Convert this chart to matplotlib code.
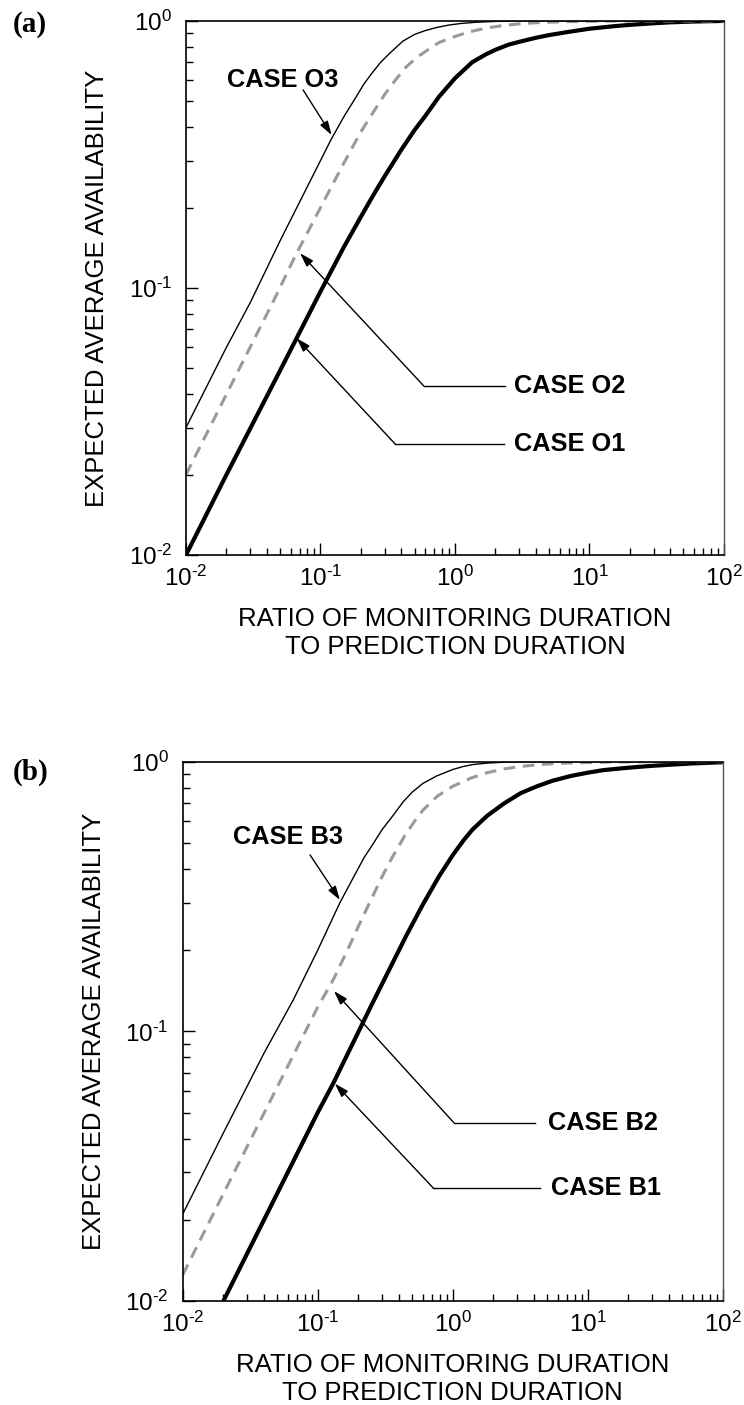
import matplotlib
matplotlib.use('Agg')
import matplotlib.pyplot as plt
from matplotlib.ticker import NullFormatter, FuncFormatter
import numpy as np

plt.rcParams['font.family'] = ['Liberation Sans', 'DejaVu Sans']
plt.rcParams['mathtext.fontset'] = 'custom'
plt.rcParams['mathtext.rm'] = 'Liberation Sans'
plt.rcParams['mathtext.it'] = 'Liberation Sans:italic'
plt.rcParams['mathtext.bf'] = 'Liberation Sans:bold'
plt.rcParams['axes.unicode_minus'] = False

# ---- panel (a) values ----
o1_x = [0.01, 0.02, 0.05, 0.1, 0.15, 0.2, 0.25, 0.3, 0.4, 0.5, 0.6, 0.76, 1.0, 1.34, 1.7, 2.0,
        2.5, 3.0, 4.0, 5.0, 7.0, 10, 15, 20, 30, 40, 60, 100]
o1_y = [0.01, 0.02, 0.049, 0.097, 0.143, 0.185, 0.225, 0.262, 0.33, 0.39, 0.44, 0.52, 0.61, 0.70,
        0.75, 0.78, 0.815, 0.835, 0.865, 0.885, 0.91, 0.935, 0.955, 0.967, 0.98, 0.988, 0.995, 1.0]

o2_x = [0.01, 0.02, 0.045, 0.065, 0.1, 0.15, 0.2, 0.25, 0.3, 0.36, 0.43, 0.52, 0.63, 0.76, 1.0,
        1.3, 1.7, 2.3, 3.0, 4.0, 6.0, 10, 20, 100]
o2_y = [0.02, 0.04, 0.09, 0.132, 0.20, 0.295, 0.385, 0.46, 0.53, 0.60, 0.67, 0.73, 0.78, 0.83, 0.875,
        0.912, 0.94, 0.962, 0.975, 0.985, 0.992, 0.997, 1.0, 1.0]

o3_x = [0.01, 0.02, 0.03, 0.05, 0.07, 0.1, 0.12, 0.15, 0.18, 0.21, 0.24, 0.28, 0.33, 0.41, 0.5,
        0.6, 0.73, 0.9, 1.1, 1.4, 2.0, 3.0, 100]
o3_y = [0.03, 0.06, 0.088, 0.15, 0.21, 0.30, 0.36, 0.44, 0.51, 0.58, 0.635, 0.70, 0.76, 0.84, 0.89,
        0.92, 0.945, 0.965, 0.978, 0.988, 0.996, 1.0, 1.0]

# ---- panel (b) values ----
b1_x = [0.02, 0.05, 0.1, 0.13, 0.25, 0.35, 0.45, 0.6, 0.79, 1.0, 1.2, 1.4, 1.8, 2.4, 3.2, 4.2,
        5.5, 7.5, 10, 13, 18, 23, 30, 42, 60, 100]
b1_y = [0.01, 0.025, 0.05, 0.064, 0.125, 0.175, 0.225, 0.295, 0.375, 0.45, 0.51, 0.56, 0.63, 0.70,
        0.765, 0.81, 0.85, 0.885, 0.91, 0.93, 0.945, 0.955, 0.965, 0.975, 0.985, 0.995]

b2_x = [0.01, 0.02, 0.05, 0.1, 0.13, 0.17, 0.2, 0.25, 0.3, 0.355, 0.44, 0.52, 0.6, 0.77, 1.0, 1.37,
        1.8, 2.4, 3.2, 4.3, 6.0, 8.0, 15, 30, 100]
b2_y = [0.0125, 0.025, 0.062, 0.123, 0.155, 0.205, 0.245, 0.31, 0.375, 0.44, 0.53, 0.60, 0.66, 0.745,
        0.81, 0.87, 0.91, 0.94, 0.96, 0.975, 0.985, 0.99, 0.997, 1.0, 1.0]

b3_x = [0.01, 0.02, 0.04, 0.066, 0.1, 0.146, 0.18, 0.22, 0.26, 0.3, 0.36, 0.43, 0.5, 0.6, 0.76, 1.0,
        1.2, 1.4, 1.8, 2.5, 4.0, 100]
b3_y = [0.021, 0.042, 0.083, 0.131, 0.20, 0.30, 0.365, 0.44, 0.50, 0.56, 0.63, 0.71, 0.77, 0.83,
        0.885, 0.935, 0.96, 0.975, 0.988, 0.996, 1.0, 1.0]

# annotation placement: (text, text_xy, arrow_tail, arrow_tip, leader_end)
notes_a = [
    ('CASE O3', (0.0202, 0.60), (0.0742, 0.552), (0.121, 0.374), None),
    ('CASE O2', (2.73, 0.043), (0.585, 0.043), (0.0705, 0.135), 2.37),
    ('CASE O1', (2.73, 0.026), (0.36, 0.026), (0.0665, 0.0648), 2.3),
]
notes_b = [
    ('CASE B3', (0.0236, 0.526), (0.0877, 0.451), (0.146, 0.307), None),
    ('CASE B2', (5.08, 0.0459), (1.017, 0.0459), (0.132, 0.141), 4.09),
    ('CASE B1', (5.35, 0.0263), (0.715, 0.0263), (0.134, 0.064), 4.46),
]

xlabel = 'RATIO OF MONITORING DURATION\nTO PREDICTION DURATION'
ylabel = 'EXPECTED AVERAGE AVAILABILITY'


def pow_label(v, pos):
    e = int(round(np.log10(v)))
    s = str(e).replace('-', r'\text{-}')
    return r'$\mathregular{10^{%s}}$' % s


fig = plt.figure(figsize=(7.44, 14.05), dpi=100)
ax_a = fig.add_axes([0.25, 0.605, 0.7231, 0.3801])
ax_b = fig.add_axes([0.2456, 0.074, 0.7258, 0.3839])


def draw_panel(ax, thick, dashed, thin, notes):
    ax.plot(thick[0], thick[1], color='black', lw=3.0, solid_capstyle='butt')
    ax.plot(dashed[0], dashed[1], color='#9a9a9a', lw=2.2, dashes=(3.8, 2.5))
    ax.plot(thin[0], thin[1], color='black', lw=1.0)

    ax.set_xscale('log')
    ax.set_yscale('log')
    ax.set_xlim(1e-2, 1e2)
    ax.set_ylim(1e-2, 1)
    ax.xaxis.set_major_formatter(FuncFormatter(pow_label))
    ax.yaxis.set_major_formatter(FuncFormatter(pow_label))
    ax.xaxis.set_minor_formatter(NullFormatter())
    ax.yaxis.set_minor_formatter(NullFormatter())
    ax.tick_params(which='both', direction='in', top=False, right=False,
                   labelsize=17.5, width=1.0)
    ax.tick_params(which='major', length=8.5)
    ax.tick_params(which='minor', length=5)
    ax.tick_params(axis='x', pad=8)
    ax.tick_params(axis='y', pad=10)
    for s in ['left', 'bottom', 'top']:
        ax.spines[s].set_linewidth(1.2)
    ax.spines['right'].set_linewidth(1.0)
    ax.spines['right'].set_color('#555555')

    ax.set_xlabel(xlabel, fontsize=18.5, labelpad=11, linespacing=1.25)
    ax.set_ylabel(ylabel, fontsize=18.5, labelpad=14)

    for text, txy, tail, tip, lead_end in notes:
        ax.text(txy[0], txy[1], text, fontsize=18.3, fontweight='bold',
                ha='left', va='center')
        if lead_end is not None:
            ax.plot([tail[0], lead_end], [tail[1], tail[1]], color='black', lw=1.0)
        ax.annotate('', xy=tip, xytext=tail,
                    arrowprops=dict(arrowstyle='-|>,head_length=0.7,head_width=0.22',
                                    mutation_scale=12, color='black', lw=1.0,
                                    shrinkA=0, shrinkB=0))


draw_panel(ax_a, (o1_x, o1_y), (o2_x, o2_y), (o3_x, o3_y), notes_a)
draw_panel(ax_b, (b1_x, b1_y), (b2_x, b2_y), (b3_x, b3_y), notes_b)

fig.text(0.0175, 1 - 25 / 1405, '(a)', family=['Liberation Serif'], fontweight='bold',
         fontsize=21, ha='left', va='center')
fig.text(0.0175, 1 - 772 / 1405, '(b)', family=['Liberation Serif'], fontweight='bold',
         fontsize=21, ha='left', va='center')

fig.savefig('out.png', dpi=100)
